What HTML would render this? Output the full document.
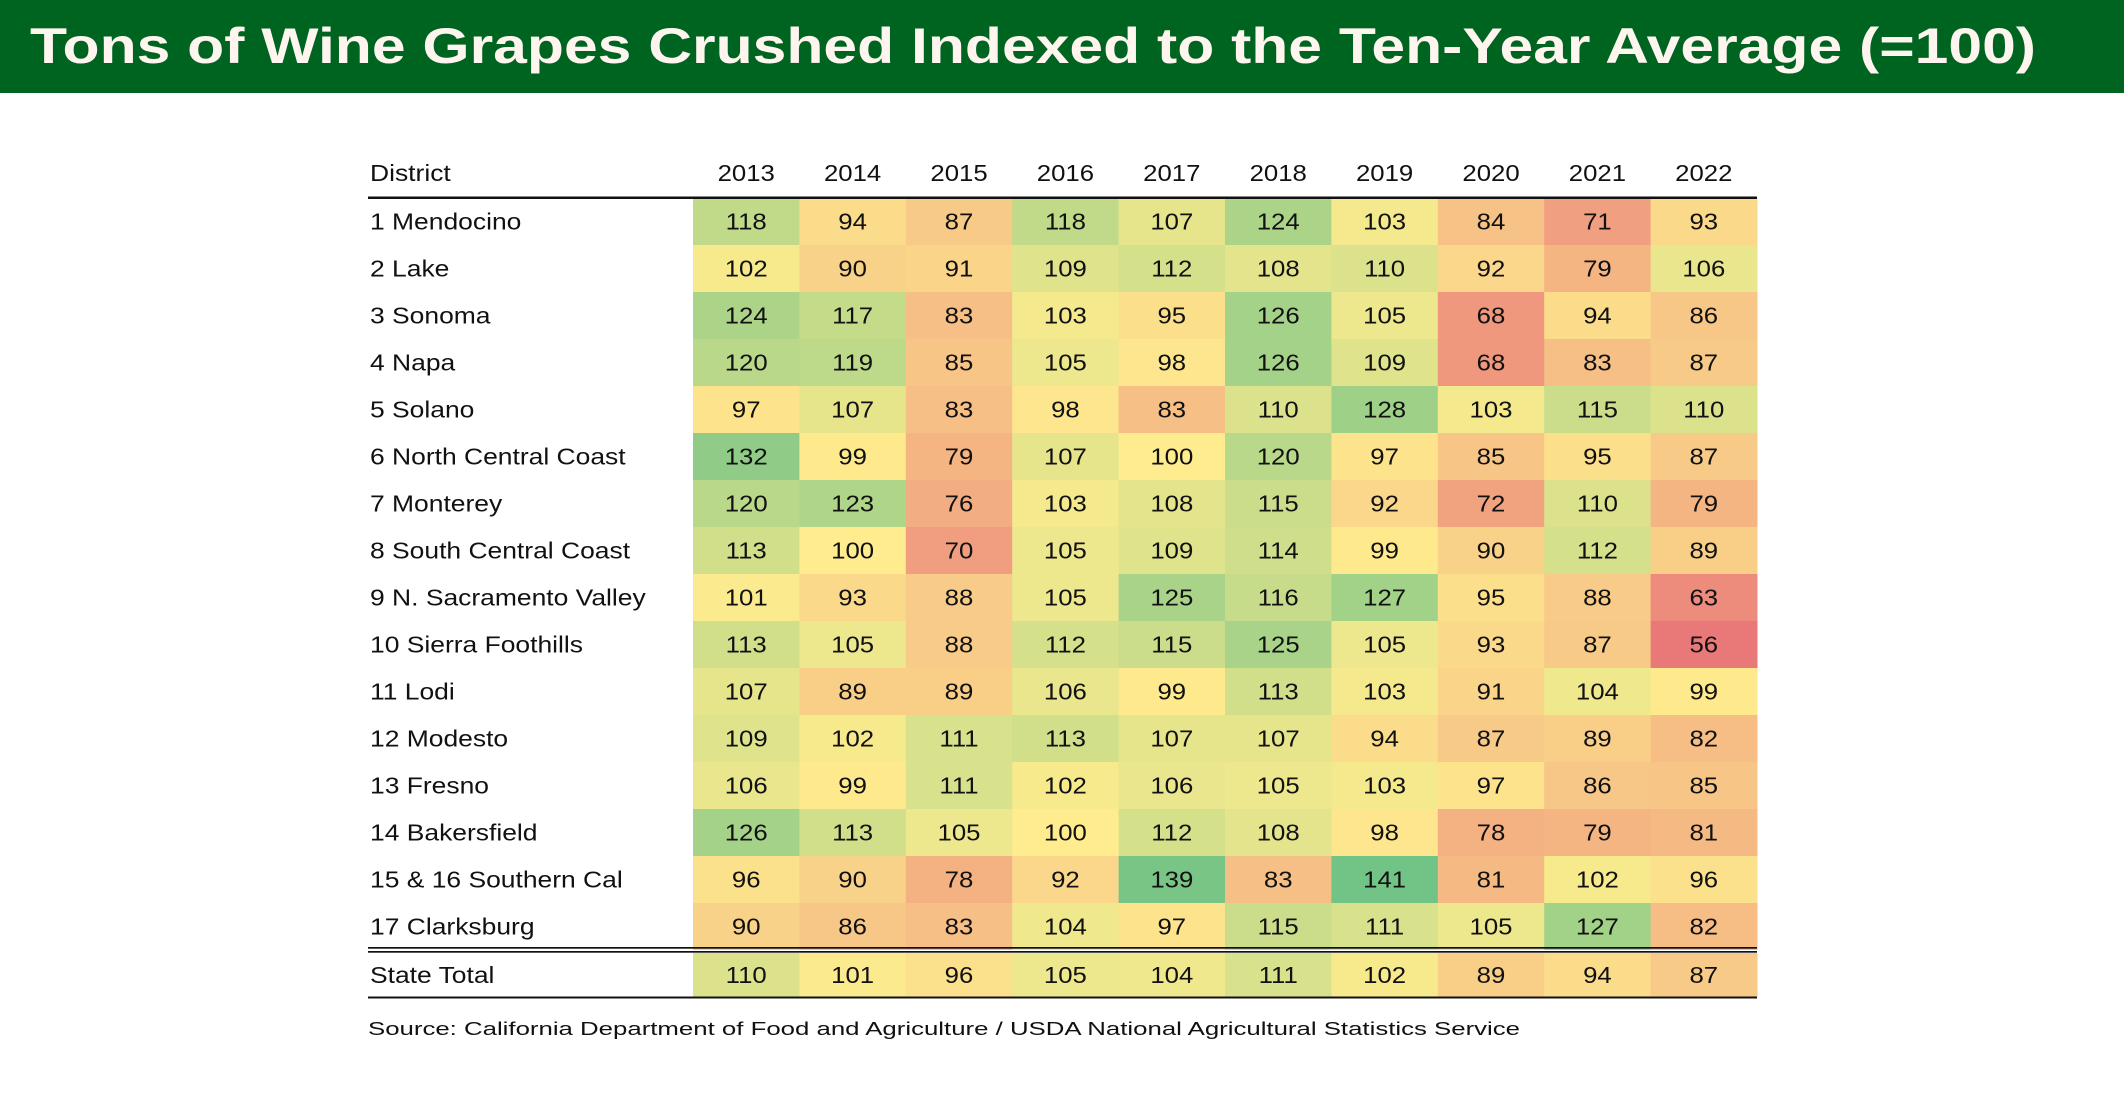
<!DOCTYPE html>
<html><head><meta charset="utf-8"><style>html,body{margin:0;padding:0;background:#fff}svg{display:block}</style></head>
<body>
<svg id="s" width="2124" height="1093" viewBox="0 0 2124 1093" xmlns="http://www.w3.org/2000/svg" font-family="'Liberation Sans', sans-serif">
<rect x="0" y="0" width="2124" height="93" fill="#006421"/>
<text x="30" y="63" font-size="50" font-weight="bold" fill="#fdf5ee" textLength="2006" lengthAdjust="spacingAndGlyphs">Tons of Wine Grapes Crushed Indexed to the Ten-Year Average (=100)</text>
<g id="t"></g>
<text x="368" y="1035" font-size="18" fill="#111" textLength="1152" lengthAdjust="spacingAndGlyphs">Source: California Department of Food and Agriculture / USDA National Agricultural Statistics Service</text>
</svg>
<script>
(function(){
var rows=[
["1 Mendocino",118,94,87,118,107,124,103,84,71,93],
["2 Lake",102,90,91,109,112,108,110,92,79,106],
["3 Sonoma",124,117,83,103,95,126,105,68,94,86],
["4 Napa",120,119,85,105,98,126,109,68,83,87],
["5 Solano",97,107,83,98,83,110,128,103,115,110],
["6 North Central Coast",132,99,79,107,100,120,97,85,95,87],
["7 Monterey",120,123,76,103,108,115,92,72,110,79],
["8 South Central Coast",113,100,70,105,109,114,99,90,112,89],
["9 N. Sacramento Valley",101,93,88,105,125,116,127,95,88,63],
["10 Sierra Foothills",113,105,88,112,115,125,105,93,87,56],
["11 Lodi",107,89,89,106,99,113,103,91,104,99],
["12 Modesto",109,102,111,113,107,107,94,87,89,82],
["13 Fresno",106,99,111,102,106,105,103,97,86,85],
["14 Bakersfield",126,113,105,100,112,108,98,78,79,81],
["15 & 16 Southern Cal",96,90,78,92,139,83,141,81,102,96],
["17 Clarksburg",90,86,83,104,97,115,111,105,127,82],
["State Total",110,101,96,105,104,111,102,89,94,87]];
var R=[232,108,108],Y=[255,235,132],G=[99,190,123],W=[245,240,230];
function col(v){var a,b,f;if(v<100){f=(100-v)/44;a=Y;b=R;}else{f=(v-100)/41;a=Y;b=G;}f=Math.min(1,f);
var c=[0,1,2].map(function(i){var x=a[i]+(b[i]-a[i])*f;return Math.round(x*0.9+W[i]*0.1);});return "rgb("+c.join(",")+")";}
function num(x,y,s){return '<text x="0" y="0" font-size="23" text-anchor="middle" fill="#111" transform="translate('+x+','+y+') scale(1.12,1)">'+s+'</text>';}
var h="",x0=693,cw=106.4;
h+='<text x="0" y="0" font-size="23" fill="#111" transform="translate(370,181) scale(1.15,1)">District</text>';
for(var j=0;j<10;j++)h+=num(x0+cw*j+cw/2,181,2013+j);
for(var i=0;i<17;i++){var ty=i<16?198+47*i:953,hh=i<16?47:44;var r=rows[i];
h+='<text x="0" y="0" font-size="23" fill="#111" transform="translate(370,'+(ty+hh/2+8)+') scale(1.15,1)">'+r[0].replace("&","&amp;")+'</text>';
for(var j=0;j<10;j++){h+='<rect x="'+(x0+cw*j)+'" y="'+ty+'" width="'+(cw+0.5)+'" height="'+hh+'" fill="'+col(r[j+1])+'"/>';
h+=num(x0+cw*j+cw/2,ty+hh/2+8,r[j+1]);}}
h+='<rect x="368" y="196.5" width="1389" height="2.5" fill="#111"/>';
h+='<rect x="368" y="947" width="1389" height="1.7" fill="#111"/>';
h+='<rect x="368" y="951" width="1389" height="1.7" fill="#111"/>';
h+='<rect x="368" y="996.5" width="1389" height="2" fill="#111"/>';
document.getElementById("t").innerHTML=h;
})();
</script>
</body></html>
